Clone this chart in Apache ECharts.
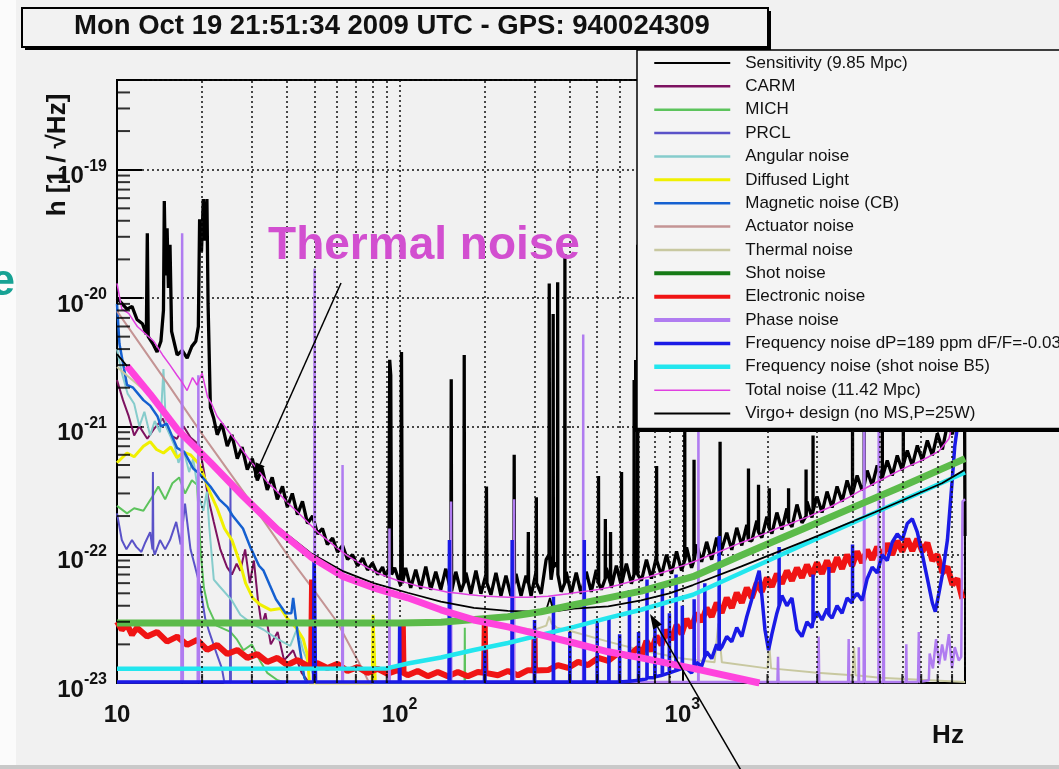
<!DOCTYPE html>
<html><head><meta charset="utf-8">
<script src="https://cdn.jsdelivr.net/npm/echarts/dist/echarts.min.js"></script>
<style>html,body{margin:0;padding:0;background:#f1f1f1}#c{width:1059px;height:769px}</style>
</head><body><div id="c"></div><script>
// ---------------- data (frequency in Hz, strain in 1/sqrt(Hz)) ----------------
const titleText = 'Mon Oct 19 21:51:34 2009 UTC - GPS: 940024309';
const seriesNames = ['Sensitivity (9.85 Mpc)','CARM','MICH','PRCL','Angular noise','Diffused Light','Magnetic noise (CB)','Actuator noise','Thermal noise','Shot noise','Electronic noise','Phase noise','Frequency noise dP=189 ppm dF/F=-0.036','Frequency noise (shot noise B5)','Total noise (11.42 Mpc)','Virgo+ design (no MS,P=25W)'];
const xDecades = [10, 100, 1000, 10000];
const yDecadeExp = [-23, -22, -21, -20, -19];
const minorMult = [2, 3, 4, 5, 6, 7, 8, 9];
const yMin = 1e-23, yMax = 5e-19;

const sensitivity = [[10,1.0e-20],[10.85,8.2e-21],[11.3,8.6e-21],[11.77,6.8e-21],[12.3,6.3e-21],[12.7,5.2e-21],[12.8,3.2e-20],[12.9,5.0e-21],[13.4,4.4e-21],[13.86,3.8e-21],[14.3,4.6e-21],[14.6,8e-21],[14.7,5.7e-20],[14.85,1.5e-20],[15.04,3.5e-20],[15.2,1.2e-20],[15.4,2.6e-20],[15.6,5.5e-21],[16.32,3.6e-21],[17.0,3.9e-21],[17.71,3.4e-21],[18.4,4.2e-21],[19.0,4.6e-21],[19.4,6e-21],[19.6,4.1e-20],[19.9,2.3e-20],[20.2,5.9e-20],[20.5,2.8e-20],[20.8,5.9e-20],[21.0,9e-21],[21.4,1.4e-21],[22.0,1.15e-21],[22.62,8.6e-22],[23.5,1.05e-21],[24.55,7.0e-22],[25.5,8.6e-22],[26.64,5.6e-22],[27.7,6.9e-22],[28.9,4.6e-22],[30.1,5.6e-22],[31.37,3.8e-22],[32.6,4.7e-22],[34.0,3.2e-22],[35.4,4.0e-22],[36.9,2.7e-22],[38.5,3.4e-22],[40.06,2.35e-22],[41.7,3.0e-22],[43.5,2.05e-22],[45.3,2.6e-22],[47.2,1.75e-22],[49.2,2.0e-22],[51.2,1.45e-22],[53.3,1.6e-22],[55.5,1.2e-22],[57.9,1.35e-22],[60.3,1.05e-22],[62.8,1.18e-22],[65.4,9.2e-23],[68.1,1.0e-22],[71,8.2e-23],[74,9.4e-23],[77,7.6e-23],[80.2,8.6e-23],[83.6,7.0e-23],[87,8.0e-23],[89,6.8e-23],[91.6,7.8e-23],[92.2,3.3e-21],[93,2.5e-21],[93.6,7.0e-23],[96,7.9e-23],
[100.8,5.73e-23],[101.5,3.8e-21],[102.2,6e-23],[105,7.9e-23],[109.4,5.52e-23],[114,7.63e-23],[118.7,5.42e-23],[123.7,8.06e-23],[128.8,5.33e-23],[134.2,7.36e-23],[139.8,5.33e-23],[145.6,7.77e-23],[151.7,5.14e-23],[152.2,2.33e-21],[152.7,5.2e-23],[158,7.36e-23],[164.6,5.14e-23],[168.8,6e-23],[169.2,3.6e-21],[169.6,6e-23],[171.5,7.23e-23],[178.6,4.96e-23],[186.1,7.5e-23],[193.8,4.96e-23],[201.9,6.98e-23],[202.8,3.4e-22],[203.6,6e-23],[210.3,4.87e-23],[219.1,7.23e-23],[228.2,4.78e-23],[237.7,6.86e-23],[247.7,4.78e-23],[253.6,6e-23],[254.2,6e-22],[254.8,6e-23],[258,7.1e-23],[268.8,4.78e-23],[280,6.86e-23],[284.6,6e-23],[285.2,1.5e-22],[285.8,6e-23],[291.6,4.78e-23],[303.8,7.36e-23],[304.4,2.8e-22],[305,6e-23],[316.5,4.96e-23],[329.7,9.14e-23],[337.6,1e-22],[338.2,1.3e-20],[338.8,1e-22],[343.4,6.38e-23],[348.6,8e-23],[349.2,7.5e-21],[349.8,8e-23],[357.7,8.66e-23],[361.6,8e-23],[362.2,1.33e-20],[362.8,7e-23],[372.7,5.14e-23],[383.6,6e-23],[384.2,2.2e-20],[384.8,6e-23],[388.2,7.36e-23],[404.4,4.96e-23],[421.3,7.23e-23],[438.8,4.96e-23],[457.1,7.36e-23],[476.2,5.14e-23],[496.1,7.63e-23],[504.5,6e-23],[505.2,4.1e-22],[505.9,6e-23],[516.8,5.33e-23],[533.5,6.5e-23],[534.2,1.9e-22],[534.9,6.5e-23],[538.3,7.9e-23],[556.6,6e-23],[557.3,1.5e-22],[558,6e-23],[560.8,5.52e-23],[584.2,8.2e-23],[608.5,5.73e-23],[609.5,4.4e-22],[610.5,6e-23],[633.9,8.5e-23],[660.3,5.94e-23],[674.5,7e-23],[675.3,2.3e-21],[676.1,7e-23],[687.9,8.8e-23],[694.2,7e-23],[695,2.6e-20],[695.8,7e-23],[716.6,6.27e-23],[746.5,9.14e-23],[777.6,6.5e-23],[810,9.66e-23],[811,4.9e-22],[812,9e-23],[843.8,6.86e-23],[879,1e-22],[915.7,7.1e-23],[953.9,1.06e-22],[993.7,7.5e-23],[1019,9e-23],[1020,9.5e-22],[1021,9e-23],[1035,1.14e-22],[1078,7.9e-23],[1099,9e-23],[1100,5.5e-22],[1101,9e-23],[1123,1.2e-22],[1170,8.8e-23],[1219,1.26e-22],[1270,9.14e-23],[1323,1.36e-22],[1359,1e-22],[1360,7.6e-22],[1361,1e-22],[1378,1.02e-22],[1436,1.48e-22],[1496,1.09e-22],[1558,1.62e-22],[1623,1.18e-22],[1691,1.71e-22],[1713,1.3e-22],[1714,4.7e-22],[1715,1.3e-22],[1761,1.28e-22],[1835,1.84e-22],[1859,1.5e-22],[1860,3.5e-22],[1861,1.5e-22],[1911,1.36e-22],[1991,1.98e-22],[2029,1.6e-22],[2030,3.3e-22],[2031,1.6e-22],[2074,1.46e-22],[2160,2.13e-22],[2250,1.57e-22],[2344,2.29e-22],[2375,1.8e-22],[2376,3.3e-22],[2377,1.8e-22],[2442,1.65e-22],[2544,2.46e-22],[2650,1.77e-22],[2739,2e-22],[2740,4.6e-22],[2741,2e-22],[2760,2.6e-22],[2875,1.95e-22],[2899,2.2e-22],[2900,8.5e-22],[2901,2.2e-22],[2995,2.84e-22],[3120,2.13e-22],[3250,3.1e-22],[3386,2.33e-22],[3527,3.4e-22],[3674,2.59e-22],[3827,3.79e-22],[3987,2.84e-22],[3999,3e-22],[4000,1e-21],[4001,3e-22],[4153,4.14e-22],[4326,3.16e-22],[4399,3.5e-22],[4400,1.1e-21],[4401,3.5e-22],[4507,4.53e-22],[4695,3.46e-22],[4890,4.96e-22],[5094,3.79e-22],[5099,4e-22],[5100,1.1e-21],[5101,4e-22],[5307,5.42e-22],[5528,4.14e-22],[5759,5.93e-22],[5999,4.53e-22],[6049,5e-22],[6050,1.2e-21],[6051,5e-22],[6249,6.49e-22],[6510,4.96e-22],[6781,7.1e-22],[7064,5.42e-22],[7359,7.77e-22],[7666,5.93e-22],[7985,8.82e-22],[8318,6.61e-22],[8665,1.04e-21],[9027,8.66e-22],[9403,1.63e-21],[9795,2.33e-21],[9950,4e-21],[10000,1.4e-22]];

const carm = [[10,2.3e-21],[10.5,1.6e-21],[11,1.2e-21],[11.5,8.5e-22],[12,1.0e-21],[12.8,8e-22],[13.5,9.5e-22],[14.5,1.15e-21],[15.5,8.5e-22],[16.3,8e-22],[17.2,1.0e-21],[18.2,8.2e-22],[19.5,7.2e-22],[20.3,4.5e-22],[21,2.8e-22],[22,1.8e-22],[23.2,1.1e-22],[24.5,8e-23],[25.5,7e-23],[26.5,8.5e-23],[27.3,7.5e-23],[28.4,1.1e-22],[29.5,6e-23],[30.5,9e-23],[31.5,4.5e-23],[32.5,2.8e-23],[33.5,3.5e-23],[35,2e-23],[37,2.5e-23],[39,1.5e-23],[42,1.8e-23],[45,1.2e-23],[48,1.0e-23]];

const mich = [[10,2.4e-22],[10.85,2.1e-22],[11.5,2.3e-22],[12.4,2.2e-22],[13.3,2.8e-22],[14,3.4e-22],[14.8,2.7e-22],[15.7,3.6e-22],[16.6,4e-22],[17.4,3e-22],[18.4,3.8e-22],[19.2,3.5e-22],[19.8,1e-22],[20.3,5.5e-23],[21,3.9e-23],[22.5,2.8e-23],[25.2,2.5e-23],[26.5,2.2e-23],[28,1.8e-23],[30,2e-23],[32,1.5e-23],[34,1.2e-23],[37,1.05e-23],[40,1e-23],[80.6,1e-23],[81,3.3e-23],[81.4,1e-23],[169.6,1e-23],[170,2.7e-23],[170.4,1e-23],[200,1e-23]];

const prcl = [[10,2.1e-22],[10.4,1.3e-22],[10.8,1.1e-22],[11.3,1.3e-22],[11.7,1.15e-22],[12.2,1.05e-22],[12.6,1.25e-22],[13.1,1.5e-22],[13.35,1.1e-22],[13.4,4.4e-22],[13.45,1.1e-22],[13.6,1.0e-22],[14.2,1.3e-22],[14.8,1.1e-22],[15.4,1.3e-22],[16.2,1.8e-22],[16.8,1.2e-22],[17.4,2.5e-22],[18.2,1.1e-22],[18.9,8e-23],[19.7,5.6e-23],[20.5,3.2e-23],[21.2,2.5e-23],[22.5,1.7e-23],[23.5,1.3e-23],[24,1.0e-23],[25.1,1e-23],[25.2,3.6e-22],[25.3,1e-23],[30,1e-23]];

const angular = [[10,4e-21],[10.4,2.6e-21],[10.9,1.8e-21],[11.5,1.5e-21],[12,1.0e-21],[12.5,1.3e-21],[13.1,8.5e-22],[13.6,1.1e-21],[14.2,9e-22],[14.6,2.8e-21],[14.9,1.0e-21],[15.4,8.5e-22],[16,7e-22],[16.5,5.2e-22],[17.2,6.5e-22],[18,4.4e-22],[18.6,5.6e-22],[19.5,2.8e-22],[20.2,2.2e-22],[20.8,3.1e-22],[21.2,1.65e-22],[22,6.4e-23],[23,5.7e-23],[25.5,4.4e-23],[27.3,3.4e-23],[30,2.9e-23],[33,2.6e-23],[37,2.2e-23],[41,1.95e-23],[43.5,2.7e-23],[45.5,1.8e-23],[48,1.35e-23],[50,1.1e-23]];

const diffused = [[10,5.2e-22],[10.85,6.2e-22],[11.5,5.8e-22],[12.4,7e-22],[13.1,7.6e-22],[13.8,6.6e-22],[14.6,6.2e-22],[15.5,6.9e-22],[16.3,5.7e-22],[17.2,6.3e-22],[18.2,6e-22],[19.5,5.1e-22],[20.2,4.2e-22],[21.4,3e-22],[22.6,2.3e-22],[24,1.6e-22],[25.5,1.3e-22],[27.3,8.5e-23],[28.5,6e-23],[30.2,4.6e-23],[32,4.1e-23],[35,3.7e-23],[38,3.8e-23],[40,3.2e-23],[43,2.7e-23],[45.6,2.2e-23],[47,1.7e-23],[48,1e-23],[80,1e-23],[80.5,3.4e-23],[81.5,3.4e-23],[82,1e-23]];

const magnetic = [[10,9e-21],[10.2,4.4e-21],[10.85,2.1e-21],[11.4,2.0e-21],[12.4,1.6e-21],[13.1,1.45e-21],[13.9,1.2e-21],[14.3,1.0e-21],[15,1.05e-21],[16.3,6.8e-22],[17.3,6.3e-22],[18.6,4.7e-22],[19.5,4.3e-22],[21.4,3.4e-22],[23,2.7e-22],[24.6,2.35e-22],[25.7,2.0e-22],[27.9,1.6e-22],[29.6,1.15e-22],[31.8,8.2e-23],[33,7.5e-23],[34.7,5.8e-23],[36.5,4.5e-23],[39.5,3.5e-23],[41.4,3.5e-23],[42,4.6e-23],[43.8,2.2e-23],[46,1.1e-23],[47,1.0e-23]];

const actuator = [[10,7.9e-21],[15,2.2e-21],[20,8.7e-22],[30,2.5e-22],[40,1.0e-22],[50,5.2e-23],[60,3.0e-23],[75,1.2e-23],[78,1.0e-23]];

const thermal = [[10,2.9e-21],[13.1,1.75e-21],[16.3,9.3e-22],[21.4,5.2e-22],[28,2.8e-22],[36.9,1.55e-22],[48.4,9.6e-23],[63.3,6.7e-23],[80.9,5.5e-23],[106.8,4.6e-23],[140,3.7e-23],[183,3.1e-23],[241.5,2.75e-23],[300,2.6e-23],[330,2.8e-23],[338,3.3e-23],[345,2.9e-23],[360,2.7e-23],[414,2.5e-23],[546.6,2.1e-23],[715,1.8e-23],[1000,1.55e-23],[1300,1.45e-23],[1340,2.9e-23],[1380,1.45e-23],[2000,1.3e-23],[2030,2.0e-23],[2060,1.3e-23],[3000,1.2e-23],[4000,1.15e-23],[4050,1.9e-23],[4100,1.15e-23],[5000,1.1e-23],[10000,1.02e-23]];

const shot = [[10,2.94e-23],[100,2.94e-23],[140,2.98e-23],[241.5,3.28e-23],[316,3.59e-23],[414,4.07e-23],[546.6,4.61e-23],[715,5.2e-23],[1090,6.73e-23],[1618,9.9e-23],[2642,1.57e-22],[4315,2.5e-22],[5983,3.4e-22],[10000,5.6e-22]];

const electronic = [[10,3e-23],[10.4,2.6e-23],[10.85,2.85e-23],[11.3,2.37e-23],[11.77,2.7e-23],[12.78,2.3e-23],[13.86,2.5e-23],[15.04,2.1e-23],[16.32,2.3e-23],[17.71,1.98e-23],[19.21,2.17e-23],[20.85,1.81e-23],[22.62,1.98e-23],[24.55,1.68e-23],[26.64,1.81e-23],[28.9,1.57e-23],[31.37,1.68e-23],[34,1.46e-23],[36.9,1.57e-23],[40.06,1.38e-23],[43.5,1.51e-23],[47.2,1.36e-23],[48.6,1.4e-23],[49,6.4e-23],[49.4,1.4e-23],[51.2,1.43e-23],[55.5,1.31e-23],[60.3,1.41e-23],[65.4,1.24e-23],[71,1.33e-23],[77,1.2e-23],[83.6,1.29e-23],[90.6,1.18e-23],[98.4,1.26e-23],[102,1.2e-23],[102.6,2.84e-23],[103.2,1.2e-23],[106.8,1.15e-23],[115.8,1.24e-23],[125.7,1.13e-23],[136.4,1.22e-23],[148,1.13e-23],[160.6,1.22e-23],[174.2,1.13e-23],[189,1.22e-23],[199,1.2e-23],[200,2.84e-23],[201,1.2e-23],[222.6,1.15e-23],[241.5,1.24e-23],[262,1.15e-23],[284.4,1.26e-23],[299,1.25e-23],[300,2.5e-23],[301,1.25e-23],[335,1.26e-23],[363,1.38e-23],[394,1.31e-23],[427.7,1.46e-23],[464,1.38e-23],[503.6,1.57e-23],[546.6,1.49e-23],[593,1.71e-23],[643.6,1.62e-23],[698,1.88e-23],[716.6,1.63e-23],[746.5,2.13e-23],[777.6,1.78e-23],[810,2.33e-23],[843.8,1.98e-23],[879,2.59e-23],[915.7,2.17e-23],[953.9,2.84e-23],[993.7,2.41e-23],[1035,3.16e-23],[1078,2.69e-23],[1123,3.52e-23],[1170,3.0e-23],[1219,3.85e-23],[1270,3.28e-23],[1323,4.22e-23],[1378,3.52e-23],[1436,4.61e-23],[1496,3.85e-23],[1558,5.05e-23],[1623,4.22e-23],[1691,5.52e-23],[1761,4.61e-23],[1835,6.04e-23],[1911,5.14e-23],[1991,6.61e-23],[2074,5.62e-23],[2160,7.1e-23],[2250,5.94e-23],[2344,7.5e-23],[2442,6.27e-23],[2544,7.9e-23],[2650,6.62e-23],[2760,8.35e-23],[2875,6.86e-23],[2995,8.66e-23],[3120,7.1e-23],[3250,8.98e-23],[3386,7.36e-23],[3527,9.5e-23],[3674,7.77e-23],[3827,1e-22],[3987,8.2e-23],[4153,1.06e-22],[4326,8.66e-23],[4507,1.09e-22],[4695,9.14e-23],[4890,1.15e-22],[5094,9.5e-23],[5307,1.22e-22],[5528,1e-22],[5759,1.28e-22],[5999,1.06e-22],[6249,1.33e-22],[6510,1.07e-22],[6781,1.33e-22],[7064,1.06e-22],[7359,1.24e-22],[7666,8.98e-23],[7985,1e-22],[8318,7.23e-23],[8665,8.06e-23],[9027,5.83e-23],[9403,6.5e-23],[9795,4.53e-23]];

const phase = [[10,1.02e-23],[16.9,1.02e-23],[17,3.2e-20],[17.1,1.02e-23],[19.3,1.02e-23],[19.4,2.5e-21],[19.5,1.02e-23],[49.8,1.02e-23],[50,1.7e-20],[50.2,1.02e-23],[62.6,1.02e-23],[62.8,5e-22],[63,1.02e-23],[91.8,1.02e-23],[92,1.6e-22],[92.2,1.02e-23],[151.7,1.02e-23],[152,2.6e-22],[152.3,1.02e-23],[253.5,1.02e-23],[254,2.7e-22],[254.5,1.02e-23],[445.5,1.02e-23],[446,5.2e-21],[446.5,1.02e-23],[1138,1.02e-23],[1140,3e-21],[1142,1.02e-23],[2170,1.02e-23],[2180,1.6e-23],[2190,1.02e-23],[3020,1.02e-23],[3035,2.3e-23],[3050,1.02e-23],[3860,1.02e-23],[3877,2.2e-23],[3890,1.02e-23],[4200,1.02e-23],[4210,1.9e-23],[4220,1.02e-23],[4380,1.02e-23],[4400,5e-21],[4420,1.02e-23],[4940,1.02e-23],[4953,5e-21],[4970,1.02e-23],[5130,1.02e-23],[5150,2.8e-22],[5170,1.02e-23],[6180,1.02e-23],[6200,2e-23],[6220,1.02e-23],[6820,1.02e-23],[6865,2.5e-23],[6900,1.02e-23],[7449,1.05e-23],[7500,1.7e-23],[7700,1.3e-23],[7900,2.2e-23],[8100,1.4e-23],[8300,2e-23],[8500,1.5e-23],[8770,2.4e-23],[9000,1.3e-23],[9200,1.9e-23],[9500,1.5e-23],[9700,1.6e-23],[9800,2.6e-22],[10000,2.7e-22]];

const freqDP = [[10,1.02e-23],[49.6,1.02e-23],[49.8,1.0e-22],[50.2,1.0e-22],[50.4,1.02e-23],[99.7,1.02e-23],[100,3e-23],[100.3,1.02e-23],[149.5,1.02e-23],[150,1.3e-22],[150.5,1.02e-23],[199.5,1.02e-23],[200,1.8e-23],[200.5,1.02e-23],[249.5,1.02e-23],[250,1.3e-22],[250.5,1.02e-23],[299.5,1.02e-23],[300,3.1e-23],[300.5,1.02e-23],[349.5,1.02e-23],[350,4.7e-23],[350.5,1.02e-23],[399.5,1.02e-23],[400,2.5e-23],[400.5,1.02e-23],[449.5,1.02e-23],[450,1.3e-22],[450.5,1.02e-23],[499.5,1.02e-23],[500,3e-23],[500.5,1.02e-23],[549.5,1.02e-23],[550,3.3e-23],[550.5,1.02e-23],[599.5,1.02e-23],[600,2.4e-23],[600.5,1.02e-23],[649.5,1.03e-23],[650,5.3e-23],[650.5,1.03e-23],[699.5,1.05e-23],[700,2.5e-23],[700.5,1.05e-23],[749.5,1.08e-23],[750,6.4e-23],[750.5,1.1e-23],[799,1.1e-23],[800,3e-23],[801,1.12e-23],[849,1.15e-23],[850,6e-23],[851,1.15e-23],[899,1.2e-23],[900,3.5e-23],[901,1.2e-23],[949,1.25e-23],[950,7e-23],[951,1.25e-23],[999,1.3e-23],[1000,4e-23],[1001,1.3e-23],[1035,1.3e-23],[1078,1.2e-23],[1100,1.3e-23],[1101,4.5e-23],[1102,1.3e-23],[1123,1.45e-23],[1170,1.35e-23],[1200,1.6e-23],[1201,6e-23],[1202,1.6e-23],[1219,1.75e-23],[1270,1.55e-23],[1323,2e-23],[1349,1.8e-23],[1350,1.4e-22],[1351,1.8e-23],[1378,1.9e-23],[1436,2.3e-23],[1496,2.1e-23],[1558,2.7e-23],[1623,2.3e-23],[1691,3.3e-23],[1761,4.5e-23],[1835,6.5e-23],[1870,7.5e-23],[1911,4.8e-23],[1960,2.6e-23],[2018,1.8e-23],[2074,2.4e-23],[2160,3.5e-23],[2199,4e-23],[2200,1.15e-22],[2201,4e-23],[2250,4.8e-23],[2344,4e-23],[2442,4.6e-23],[2544,2.6e-23],[2650,2.3e-23],[2760,3e-23],[2875,2.7e-23],[2899,3e-23],[2900,7e-23],[2901,3e-23],[2995,3.6e-23],[3120,3.1e-23],[3250,3.8e-23],[3299,3.4e-23],[3300,8e-23],[3301,3.4e-23],[3386,3.2e-23],[3527,4e-23],[3674,3.5e-23],[3827,4.6e-23],[3987,4.2e-23],[3999,4.5e-23],[4000,1.2e-22],[4001,4.5e-23],[4153,5.0e-23],[4326,4.4e-23],[4507,6.5e-23],[4695,8e-23],[4890,7.2e-23],[5094,1e-22],[5307,9e-23],[5528,1.25e-22],[5759,1.45e-22],[5999,1.3e-22],[6249,1.75e-22],[6510,1.9e-22],[6781,1.5e-22],[7064,1e-22],[7359,6.5e-23],[7666,4.2e-23],[7850,3.6e-23],[8083,5e-23],[8318,7e-23],[8665,1.3e-22],[9027,4e-22],[9200,7e-22],[9403,1e-21],[9600,1.4e-21],[10000,2.5e-21]];

const freqB5 = [[10,1.29e-23],[90,1.3e-23],[106.8,1.42e-23],[140,1.58e-23],[183,1.81e-23],[241.5,2.05e-23],[316,2.37e-23],[414,2.74e-23],[546.6,3.22e-23],[715,3.72e-23],[1090,4.87e-23],[1618,7.23e-23],[2642,1.18e-22],[4315,1.91e-22],[5983,2.64e-22],[10000,4.37e-22]];

const total = [[10,1.3e-20],[10.4,8.2e-21],[11.0,7.6e-21],[11.8,6.0e-21],[12.8,5.1e-21],[13.5,4.6e-21],[14.5,3.6e-21],[15.4,3.0e-21],[16.3,2.5e-21],[17.0,2.2e-21],[17.7,1.9e-21],[18.5,2.4e-21],[19.2,2.1e-21],[20,2.6e-21],[20.9,1.7e-21],[21.6,1.5e-21],[22.6,1.2e-21],[24.5,9.5e-22],[26.6,7.5e-22],[28.9,5.8e-22],[31.4,4.6e-22],[34.0,3.7e-22],[36.9,3.1e-22],[40,2.55e-22],[43.5,2.15e-22],[47.2,1.8e-22],[51.2,1.5e-22],[55.5,1.3e-22],[60.3,1.12e-22],[65.4,9.8e-23],[71,8.8e-23],[77,7.9e-23],[83.6,7.2e-23],[90.6,6.7e-23],[98.4,6.3e-23],[106.8,6.0e-23],[115.8,5.7e-23],[125.7,5.5e-23],[136.4,5.3e-23],[148,5.1e-23],[160.6,5.0e-23],[174.2,4.9e-23],[189,4.8e-23],[205,4.75e-23],[222.6,4.7e-23],[241.5,4.65e-23],[262,4.65e-23],[284.4,4.65e-23],[308.6,4.7e-23],[335,4.75e-23],[363,4.85e-23],[394,4.95e-23],[427.7,5.1e-23],[464,5.2e-23],[503.6,5.35e-23],[546.6,5.55e-23],[593,5.8e-23],[643.6,6.1e-23],[698,6.4e-23],[757.5,6.7e-23],[822,7.1e-23],[892,7.5e-23],[968,8.0e-23],[1050,8.5e-23],[1140,9.1e-23],[1237,9.8e-23],[1342,1.05e-22],[1456,1.13e-22],[1580,1.22e-22],[1714,1.3e-22],[1860,1.4e-22],[2018,1.5e-22],[2190,1.62e-22],[2376,1.72e-22],[2578,1.85e-22],[2797,1.98e-22],[3035,2.15e-22],[3293,2.32e-22],[3573,2.55e-22],[3877,2.8e-22],[4207,3.1e-22],[4565,3.4e-22],[4953,3.75e-22],[5374,4.1e-22],[5831,4.5e-22],[6327,4.9e-22],[6865,5.3e-22],[7449,5.8e-22],[8083,6.4e-22],[8770,8e-22],[9200,1.2e-21],[9516,1.8e-21],[10000,3.5e-21]];

const virgo = [[10,3.65e-21],[10.85,2.95e-21],[13.1,1.8e-21],[16.32,9.7e-22],[21.4,5.4e-22],[28,2.95e-22],[36.9,1.65e-22],[48.4,1.03e-22],[63.3,7.4e-23],[80.9,6.0e-23],[106.8,5.05e-23],[139.8,4.3e-23],[183,3.85e-23],[241.5,3.65e-23],[300,3.6e-23],[330,3.7e-23],[340,4.6e-23],[348,3.8e-23],[363,3.65e-23],[414,3.8e-23],[546.6,3.95e-23],[715,4.4e-23],[900,5.0e-23],[1090,5.8e-23],[1618,8.1e-23],[2797,1.31e-22],[4800,2.14e-22],[8290,3.6e-22],[10000,4.6e-22]];

// hand-drawn "thermal noise" highlight curve over the plot
const thermalHighlight = [[10.85,2.95e-21],[13.1,1.78e-21],[16.32,9.5e-22],[21.4,5.24e-22],[28,2.84e-22],[36.9,1.57e-22],[48.4,9.65e-23],[63.3,6.73e-23],[80.9,5.52e-23],[106.8,4.61e-23],[139.8,3.72e-23],[183,3.1e-23],[241.5,2.74e-23],[316,2.37e-23],[414,2.05e-23],[546.6,1.75e-23],[715.5,1.57e-23],[1167,1.26e-23],[1875,1.0e-23]];

// ---------------- chart ----------------
// The y scale is handled in units of 1e-23 (ECharts rounds very small tick values);
// labels still show the true powers of ten.
const UNIT = 1e-23;
const UNIT_EXP = -23;
const toUnit = arr => arr.map(p => [p[0], p[1] / UNIT]);

const FF = "'Liberation Sans', Arial, Helvetica, sans-serif";
const chart = echarts.init(document.getElementById('c'), null, {renderer: 'canvas'});

function ser(name, data, color, width, z) {
  return {name: name, type: 'line', data: toUnit(data), symbol: 'none', showSymbol: false, clip: true,
    silent: true, animation: false, z: z || 2, lineStyle: {color: color, width: width},
    itemStyle: {color: color}, emphasis: {disabled: true}};
}
const xMinor = [];
xDecades.slice(0, 3).forEach(d => minorMult.forEach(m => xMinor.push(d * m)));
const yMinor = [];
yDecadeExp.forEach(e => minorMult.forEach(m => { const v = m * Math.pow(10, e - UNIT_EXP); if (v <= yMax / UNIT + 1e-9) yMinor.push([10, v]); }));

function supFmt(v, offset, skipExp) {
  const e = Math.log10(v), r = Math.round(e);
  if (Math.abs(e - r) > 1e-6) return '';
  const ex = r + offset;
  if (ex === skipExp) return '';
  if (ex === 1) return '{b|10}';
  return '{b|10}{s|' + ex + '}';
}
const richLab = {
  b: {fontFamily: FF, fontSize: 24, fontWeight: 'bold', color: '#111', lineHeight: 30, verticalAlign: 'bottom'},
  s: {fontFamily: FF, fontSize: 16, fontWeight: 'bold', color: '#111', lineHeight: 14, verticalAlign: 'top'}
};

const colors = {
  sens: '#000000', carm: '#7d1260', mich: '#5cc35c', prcl: '#5a52c8', ang: '#86cccc', diff: '#f0f000',
  mag: '#1560d0', act: '#c49494', therm: '#c8c8a0', shotPlot: '#5cbb4a', shotLeg: '#167a16',
  elec: '#f01414', phase: '#b07cf0', fdp: '#1a1ae6', fb5: '#22e6ee', total: '#e040e0', virgo: '#000000',
  highlight: '#ff44dd'
};

const series = [
  {type: 'line', data: [[10, 1]], symbol: 'none', lineStyle: {opacity: 0}, silent: true, animation: false, z: 1,
   markLine: {silent: true, symbol: ['none', 'none'], label: {show: false}, animation: false,
     lineStyle: {type: [2, 3], color: '#111', width: 1.5},
     data: xMinor.map(v => ({xAxis: v}))}},
  ser(seriesNames[0], sensitivity, colors.sens, 3.3),
  ser(seriesNames[1], carm, colors.carm, 2),
  ser(seriesNames[2], mich, colors.mich, 2),
  ser(seriesNames[3], prcl, colors.prcl, 2),
  ser(seriesNames[4], angular, colors.ang, 2),
  ser(seriesNames[5], diffused, colors.diff, 3),
  ser(seriesNames[6], magnetic, colors.mag, 2.5),
  ser(seriesNames[7], actuator, colors.act, 2),
  ser(seriesNames[8], thermal, colors.therm, 2),
  ser(seriesNames[10], electronic, colors.elec, 6),
  ser(seriesNames[11], phase, colors.phase, 2.5),
  ser(seriesNames[12], freqDP, colors.fdp, 3.5),
  ser(seriesNames[13], freqB5, colors.fb5, 4.5),
  ser(seriesNames[14], total, colors.total, 1.5),
  ser(seriesNames[15], virgo, colors.virgo, 1.8),
  ser(seriesNames[9], shot, colors.shotPlot, 7, 3),
  ser('thermal highlight', thermalHighlight, colors.highlight, 7, 3),
  {type: 'scatter', data: yMinor, symbol: 'rect', symbolSize: [13, 2], symbolOffset: [6.5, 0],
   itemStyle: {color: '#000'}, silent: true, clip: false, animation: false, z: 3},
  {type: 'scatter', data: xMinor.map(v => [v, 1]), symbol: 'rect', symbolSize: [2, 9], symbolOffset: [0, -4.5],
   itemStyle: {color: '#000'}, silent: true, clip: false, animation: false, z: 3}
];

const legendStyles = [
  [colors.sens, 2], [colors.carm, 2.5], [colors.mich, 2.5], [colors.prcl, 2.5], [colors.ang, 2.5],
  [colors.diff, 3], [colors.mag, 2.5], [colors.act, 2.5], [colors.therm, 2.5], [colors.shotLeg, 4],
  [colors.elec, 4], [colors.phase, 4], [colors.fdp, 3.5], [colors.fb5, 4.5], [colors.total, 1.5], [colors.virgo, 2]
];
const legendData = seriesNames.map((n, i) => ({name: n, lineStyle: {color: legendStyles[i][0], width: legendStyles[i][1]}}));

function arrow(x1, y1, x2, y2) {
  const dx = x2 - x1, dy = y2 - y1, L = Math.hypot(dx, dy), ux = dx / L, uy = dy / L, hl = 15, hw = 5;
  const bx = x2 - ux * hl, by = y2 - uy * hl;
  return [
    {type: 'line', z: 10, shape: {x1: x1, y1: y1, x2: bx, y2: by}, style: {stroke: '#000', lineWidth: 1.5}},
    {type: 'polygon', z: 10, shape: {points: [[x2, y2], [bx - uy * hw, by + ux * hw], [bx + uy * hw, by - ux * hw]]}, style: {fill: '#000'}}
  ];
}

const option = {
  backgroundColor: '#f1f1f1',
  animation: false,
  title: {text: titleText, left: 74, top: 12, padding: 0,
    textStyle: {fontFamily: FF, fontSize: 27.5, fontWeight: 'bold', color: '#111'}},
  grid: {left: 117, top: 80, right: 94, bottom: 86, show: true, containLabel: false, outerBoundsMode: 'none',
    backgroundColor: '#f1f1f1', borderColor: '#000', borderWidth: 2},
  legend: {orient: 'vertical', left: 637, top: 50, itemWidth: 76, itemHeight: 14, itemGap: 5.37,
    padding: [4, 40, 6, 15], backgroundColor: '#f4f4f4', borderColor: '#000', borderWidth: 1.5,
    selectedMode: false, z: 6, itemStyle: {opacity: 0},
    textStyle: {fontFamily: FF, fontSize: 17, color: '#111', lineHeight: 18, padding: [0, 0, 0, 10]},
    data: legendData},
  xAxis: {type: 'log', logBase: 10, min: 10, max: 10000,
    axisLine: {show: true, lineStyle: {color: '#000', width: 2}},
    axisTick: {inside: true, length: 14, lineStyle: {color: '#000', width: 2}},
    splitLine: {show: true, lineStyle: {type: [2, 3], color: '#111', width: 1.5}},
    axisLabel: {margin: 14, formatter: v => supFmt(v, 0, 4), rich: richLab},
    name: 'Hz', nameLocation: 'end', nameGap: -17,
    nameTextStyle: {fontFamily: FF, fontSize: 26, fontWeight: 'bold', color: '#111', align: 'center', verticalAlign: 'top', padding: [40, 0, 0, 0]}},
  yAxis: {type: 'log', logBase: 10, min: yMin / UNIT, max: yMax / UNIT,
    axisLine: {show: true, lineStyle: {color: '#000', width: 2}},
    axisTick: {inside: true, length: 25, lineStyle: {color: '#000', width: 2}},
    splitLine: {show: true, lineStyle: {type: [2, 3], color: '#111', width: 1.5}},
    axisLabel: {margin: 10, padding: [8, 0, 0, 0], formatter: v => supFmt(v, UNIT_EXP, null), rich: richLab}},
  graphic: {elements: [
    {type: 'rect', z: 0, shape: {x: 0, y: 0, width: 16, height: 769}, style: {fill: '#fbfbfb'}},
    {type: 'text', z: 1, x: 15, y: 283, style: {text: 'e', font: "bold 44px 'Liberation Sans'", fill: '#17a294', align: 'right', verticalAlign: 'middle', textAlign: 'right', textVerticalAlign: 'middle'}},
    {type: 'rect', z: 0, shape: {x: 0, y: 765, width: 1059, height: 4}, style: {fill: '#c9c9c9'}},
    {type: 'rect', z: 0, shape: {x: 25, y: 11, width: 746, height: 39}, style: {fill: '#000'}},
    {type: 'rect', z: 1, shape: {x: 22, y: 8, width: 746, height: 39}, style: {fill: '#f2f2f2', stroke: '#000', lineWidth: 2}},
    {type: 'rect', z: 5, shape: {x: 634, y: 360, width: 430, height: 72}, style: {fill: '#000'}},
    {type: 'text', z: 10, x: 58, y: 155, rotation: Math.PI / 2, style: {text: 'h [1 / \u221AHz]', font: "bold 26px 'Liberation Sans'", fill: '#111', align: 'center', verticalAlign: 'middle', textAlign: 'center', textVerticalAlign: 'middle'}},
    {type: 'text', z: 10, x: 424, y: 246, style: {text: 'Thermal noise', font: "bold 46px 'Liberation Sans'", fill: '#d24fd0', align: 'center', verticalAlign: 'middle', textAlign: 'center', textVerticalAlign: 'middle'}}
  ].concat(arrow(341, 283, 254, 478)).concat(arrow(742, 772, 650, 614))},
  series: series
};
chart.setOption(option);
</script></body></html>
